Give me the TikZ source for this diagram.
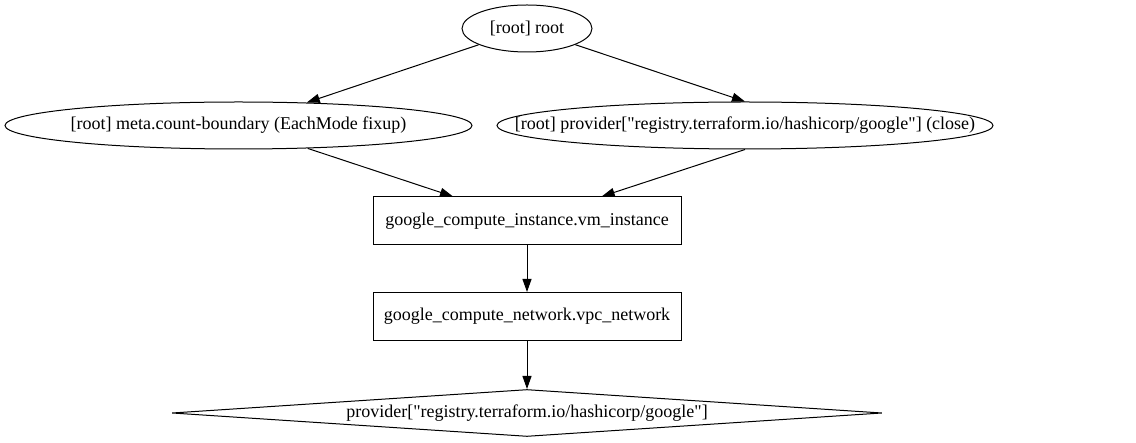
\documentclass[tikz,border=0pt]{standalone}
\usepackage{fontspec}
\setmainfont{Liberation Serif}
\newfontfamily\gvfont{Liberation Serif}
\usetikzlibrary{shapes.geometric,arrows.meta}
\tikzset{
  base/.style={draw, line width=1pt, inner sep=0pt, font=\gvfont\fontsize{18}{20}\selectfont},
  ell/.style={base, ellipse, minimum width=#1, minimum height=47pt},
  boxnode/.style={base, rectangle, minimum width=308pt, minimum height=48pt},
  dia/.style={base, diamond, minimum width=710pt, minimum height=47pt},
  edge/.style={line width=1pt, -{Triangle[length=13pt,width=9pt]}}
}
\newcommand{\lbl}[1]{\makebox[0pt]{#1}}
\begin{document}
\begin{tikzpicture}[x=1pt,y=-1pt]
\useasboundingbox (0,0) rectangle (1136,443);
\node[ell=130pt] (root) at (527,28.5) {\lbl{[root] root}};
\node[ell=467pt] (meta) at (238.5,125.5) {\lbl{[root] meta.count-boundary (EachMode fixup)}};
\node[ell=496pt] (prov) at (745,125.5) {\lbl{[root] provider["registry.terraform.io/hashicorp/google"] (close)}};
\node[boxnode] (vm) at (527,221) {\lbl{google\_compute\_instance.vm\_instance}};
\node[boxnode] (vpc) at (527,316.5) {\lbl{google\_compute\_network.vpc\_network}};
\node[dia] (goo) at (527,413) {\lbl{provider["registry.terraform.io/hashicorp/google"]}};
\draw[edge] (root) -- (meta);
\draw[edge] (root) -- (prov.north);
\draw[edge] (meta) -- (vm);
\draw[edge] (prov.south) -- (vm);
\draw[edge] (vm) -- (vpc);
\draw[edge] (vpc) -- (goo);
\end{tikzpicture}
\end{document}
